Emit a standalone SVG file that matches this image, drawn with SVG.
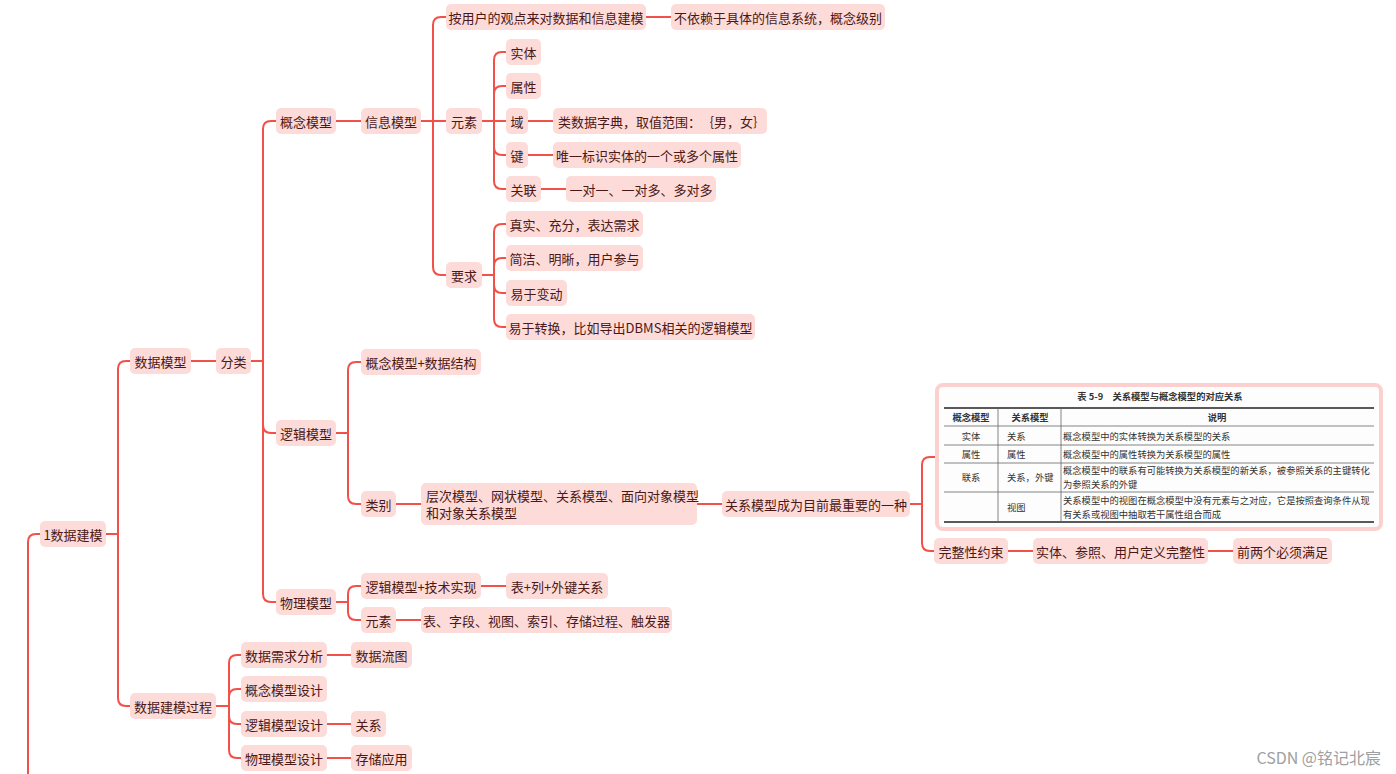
<svg xmlns="http://www.w3.org/2000/svg" width="1396" height="774" viewBox="0 0 1396 774">
<style>
.n rect{fill:#fddbd9;}
.n text{font-family:"Noto Sans CJK SC","Noto Sans",sans-serif;font-size:13px;fill:#4a1816;text-anchor:middle;dominant-baseline:central;text-spacing-trim:space-all;}
.c path{fill:none;stroke:#f4504a;stroke-width:2;}
.t text{font-family:"Noto Sans CJK SC","Noto Sans",sans-serif;font-size:9.3px;fill:#333;dominant-baseline:central;text-spacing-trim:space-all;}
.t .h{font-weight:bold;text-anchor:middle;}
.t .m{text-anchor:middle;}
.tl{stroke:#666;stroke-width:0.8;}
.tk{stroke:#222;stroke-width:1.6;}
</style>
<rect width="1396" height="774" fill="#ffffff"/>
<g class="c" id="connectors">
<path d="M40 534 H36 Q28 534 28 542 V774"/>
<path d="M106 534 H118 V369 Q118 361 126 361 H130"/>
<path d="M106 534 H118 V698 Q118 706 126 706 H130"/>
<path d="M191 361 H216"/>
<path d="M251 361 H263 V129 Q263 121 271 121 H276"/>
<path d="M251 361 H263 V425 Q263 433 271 433 H276"/>
<path d="M251 361 H263 V594 Q263 602 271 602 H276"/>
<path d="M336 121 H361"/>
<path d="M421 121 H433 V25 Q433 17 441 17 H446"/>
<path d="M421 121 H446"/>
<path d="M421 121 H433 V267 Q433 275 441 275 H446"/>
<path d="M646 17 H671"/>
<path d="M482 121 H494 V60 Q494 52 502 52 H506"/>
<path d="M482 121 H494 V94 Q494 86 502 86 H506"/>
<path d="M482 121 H506"/>
<path d="M482 121 H494 V147 Q494 155 502 155 H506"/>
<path d="M482 121 H494 V181 Q494 189 502 189 H506"/>
<path d="M528 121 H553"/>
<path d="M528 155 H553"/>
<path d="M541 189 H566"/>
<path d="M482 275 H494 V232 Q494 224 502 224 H506"/>
<path d="M482 275 H494 V266 Q494 258 502 258 H506"/>
<path d="M482 275 H494 V285 Q494 293 502 293 H506"/>
<path d="M482 275 H494 V319 Q494 327 502 327 H506"/>
<path d="M336 433 H348 V370 Q348 362 356 362 H361"/>
<path d="M336 433 H348 V496 Q348 504 356 504 H361"/>
<path d="M396 504 H421"/>
<path d="M697 504 H722"/>
<path d="M910 504 H922 V465 Q922 457 930 457 H935"/>
<path d="M910 504 H922 V543 Q922 551 930 551 H934"/>
<path d="M1008 551 H1033"/>
<path d="M1208 551 H1233"/>
<path d="M336 602 H348 V594 Q348 586 356 586 H361"/>
<path d="M336 602 H348 V612 Q348 620 356 620 H361"/>
<path d="M481 586 H506"/>
<path d="M396 620 H421"/>
<path d="M216 706 H229 V663 Q229 655 237 655 H241"/>
<path d="M216 706 H229 V697 Q229 689 237 689 H241"/>
<path d="M216 706 H229 V716 Q229 724 237 724 H241"/>
<path d="M216 706 H229 V750 Q229 758 237 758 H241"/>
<path d="M327 655 H351"/>
<path d="M327 724 H351"/>
<path d="M327 758 H351"/>
</g>
<g class="n" id="n-root"><rect x="40" y="521" width="66" height="26" rx="5"/><text x="73" y="534">1数据建模</text></g>
<g class="n" id="n-sjmx"><rect x="130" y="348" width="61" height="26" rx="5"/><text x="160.5" y="361">数据模型</text></g>
<g class="n" id="n-fl"><rect x="216" y="348" width="35" height="26" rx="5"/><text x="233.5" y="361">分类</text></g>
<g class="n" id="n-gnmx"><rect x="276" y="108" width="60" height="26" rx="5"/><text x="306" y="121">概念模型</text></g>
<g class="n" id="n-xxmx"><rect x="361" y="108" width="60" height="26" rx="5"/><text x="391" y="121">信息模型</text></g>
<g class="n" id="n-ayh"><rect x="446" y="4" width="200" height="26" rx="5"/><text x="546" y="17">按用户的观点来对数据和信息建模</text></g>
<g class="n" id="n-byl"><rect x="671" y="4" width="214" height="26" rx="5"/><text x="778" y="17">不依赖于具体的信息系统，概念级别</text></g>
<g class="n" id="n-ys1"><rect x="446" y="108" width="36" height="26" rx="5"/><text x="464" y="121">元素</text></g>
<g class="n" id="n-st"><rect x="506" y="39" width="35" height="26" rx="5"/><text x="523.5" y="52">实体</text></g>
<g class="n" id="n-sx"><rect x="506" y="73" width="35" height="26" rx="5"/><text x="523.5" y="86">属性</text></g>
<g class="n" id="n-yu"><rect x="506" y="108" width="22" height="26" rx="5"/><text x="517" y="121">域</text></g>
<g class="n" id="n-lsj"><rect x="553" y="108" width="214" height="26" rx="5"/><text x="558" y="121" style="text-anchor:start">类数据字典，取值范围：｛男，女｝</text></g>
<g class="n" id="n-jian"><rect x="506" y="142" width="22" height="26" rx="5"/><text x="517" y="155">键</text></g>
<g class="n" id="n-wy"><rect x="553" y="142" width="188" height="26" rx="5"/><text x="647" y="155">唯一标识实体的一个或多个属性</text></g>
<g class="n" id="n-gl"><rect x="506" y="176" width="35" height="26" rx="5"/><text x="523.5" y="189">关联</text></g>
<g class="n" id="n-ddy"><rect x="566" y="176" width="150" height="26" rx="5"/><text x="641" y="189">一对一、一对多、多对多</text></g>
<g class="n" id="n-yq"><rect x="446" y="262" width="36" height="26" rx="5"/><text x="464" y="275">要求</text></g>
<g class="n" id="n-zs"><rect x="506" y="211" width="137" height="26" rx="5"/><text x="574.5" y="224">真实、充分，表达需求</text></g>
<g class="n" id="n-jj"><rect x="506" y="245" width="137" height="26" rx="5"/><text x="574.5" y="258">简洁、明晰，用户参与</text></g>
<g class="n" id="n-ybd"><rect x="506" y="280" width="61" height="26" rx="5"/><text x="536.5" y="293">易于变动</text></g>
<g class="n" id="n-yzh"><rect x="506" y="314" width="249" height="26" rx="5"/><text x="630.5" y="327">易于转换，比如导出DBMS相关的逻辑模型</text></g>
<g class="n" id="n-ljmx"><rect x="276" y="420" width="60" height="26" rx="5"/><text x="306" y="433">逻辑模型</text></g>
<g class="n" id="n-gnsj"><rect x="361" y="349" width="120" height="26" rx="5"/><text x="421" y="362">概念模型+数据结构</text></g>
<g class="n" id="n-lb"><rect x="361" y="491" width="35" height="26" rx="5"/><text x="378.5" y="504">类别</text></g>
<g class="n" id="n-cc"><rect x="421" y="483" width="276" height="42" rx="5"/><text x="426" y="495" style="text-anchor:start">层次模型、网状模型、关系模型、面向对象模型</text><text x="426" y="512" style="text-anchor:start">和对象关系模型</text></g>
<g class="n" id="n-gxcw"><rect x="722" y="491" width="188" height="26" rx="5"/><text x="816" y="504">关系模型成为目前最重要的一种</text></g>
<g class="t" id="n-table">
<rect x="937" y="385" width="444" height="144" rx="6" fill="#fdfdfd" stroke="#fbd0cf" stroke-width="4"/>
<text class="h" x="1160" y="396">表 5-9　关系模型与概念模型的对应关系</text>
<line class="tk" x1="944" y1="408" x2="1374" y2="408"/>
<line class="tl" x1="944" y1="426" x2="1374" y2="426"/>
<line class="tl" x1="944" y1="445" x2="1374" y2="445"/>
<line class="tl" x1="944" y1="463" x2="1374" y2="463"/>
<line class="tl" x1="944" y1="492" x2="1374" y2="492"/>
<line class="tk" x1="944" y1="522" x2="1374" y2="522"/>
<line class="tl" x1="998" y1="408" x2="998" y2="522"/>
<line class="tl" x1="1061" y1="408" x2="1061" y2="522"/>
<text class="h" x="971" y="417">概念模型</text>
<text class="h" x="1030" y="417">关系模型</text>
<text class="h" x="1217" y="417">说明</text>
<text class="m" x="971" y="436">实体</text>
<text x="1007" y="436">关系</text>
<text x="1063" y="436">概念模型中的实体转换为关系模型的关系</text>
<text class="m" x="971" y="454">属性</text>
<text x="1007" y="454">属性</text>
<text x="1063" y="454">概念模型中的属性转换为关系模型的属性</text>
<text class="m" x="971" y="477">联系</text>
<text x="1007" y="477">关系，外键</text>
<text x="1063" y="470">概念模型中的联系有可能转换为关系模型的新关系，被参照关系的主键转化</text>
<text x="1063" y="484">为参照关系的外键</text>
<text x="1007" y="507">视图</text>
<text x="1063" y="500">关系模型中的视图在概念模型中没有元素与之对应，它是按照查询条件从现</text>
<text x="1063" y="514">有关系或视图中抽取若干属性组合而成</text>
</g>
<g class="n" id="n-wzx"><rect x="934" y="538" width="74" height="26" rx="5"/><text x="971" y="551">完整性约束</text></g>
<g class="n" id="n-stcz"><rect x="1033" y="538" width="175" height="26" rx="5"/><text x="1120.5" y="551">实体、参照、用户定义完整性</text></g>
<g class="n" id="n-qlg"><rect x="1233" y="538" width="99" height="26" rx="5"/><text x="1282.5" y="551">前两个必须满足</text></g>
<g class="n" id="n-wlmx"><rect x="276" y="589" width="60" height="26" rx="5"/><text x="306" y="602">物理模型</text></g>
<g class="n" id="n-ljjs"><rect x="361" y="573" width="120" height="26" rx="5"/><text x="421" y="586">逻辑模型+技术实现</text></g>
<g class="n" id="n-blw"><rect x="506" y="573" width="102" height="26" rx="5"/><text x="557" y="586">表+列+外键关系</text></g>
<g class="n" id="n-ys2"><rect x="361" y="607" width="35" height="26" rx="5"/><text x="378.5" y="620">元素</text></g>
<g class="n" id="n-bzd"><rect x="421" y="607" width="251" height="26" rx="5"/><text x="546.5" y="620">表、字段、视图、索引、存储过程、触发器</text></g>
<g class="n" id="n-jmgc"><rect x="130" y="693" width="86" height="26" rx="5"/><text x="173" y="706">数据建模过程</text></g>
<g class="n" id="n-xqfx"><rect x="241" y="642" width="86" height="26" rx="5"/><text x="284" y="655">数据需求分析</text></g>
<g class="n" id="n-lct"><rect x="351" y="642" width="61" height="26" rx="5"/><text x="381.5" y="655">数据流图</text></g>
<g class="n" id="n-gnsjd"><rect x="241" y="676" width="86" height="26" rx="5"/><text x="284" y="689">概念模型设计</text></g>
<g class="n" id="n-ljsj"><rect x="241" y="711" width="86" height="26" rx="5"/><text x="284" y="724">逻辑模型设计</text></g>
<g class="n" id="n-gx"><rect x="351" y="711" width="35" height="26" rx="5"/><text x="368.5" y="724">关系</text></g>
<g class="n" id="n-wlsj"><rect x="241" y="745" width="86" height="26" rx="5"/><text x="284" y="758">物理模型设计</text></g>
<g class="n" id="n-ccyy"><rect x="351" y="745" width="61" height="26" rx="5"/><text x="381.5" y="758">存储应用</text></g>
<text x="1381" y="757" font-family="'Noto Sans CJK SC','Noto Sans',sans-serif" font-size="16" fill="#a0a0a0" text-anchor="end" dominant-baseline="central">CSDN @铭记北宸</text>
</svg>
